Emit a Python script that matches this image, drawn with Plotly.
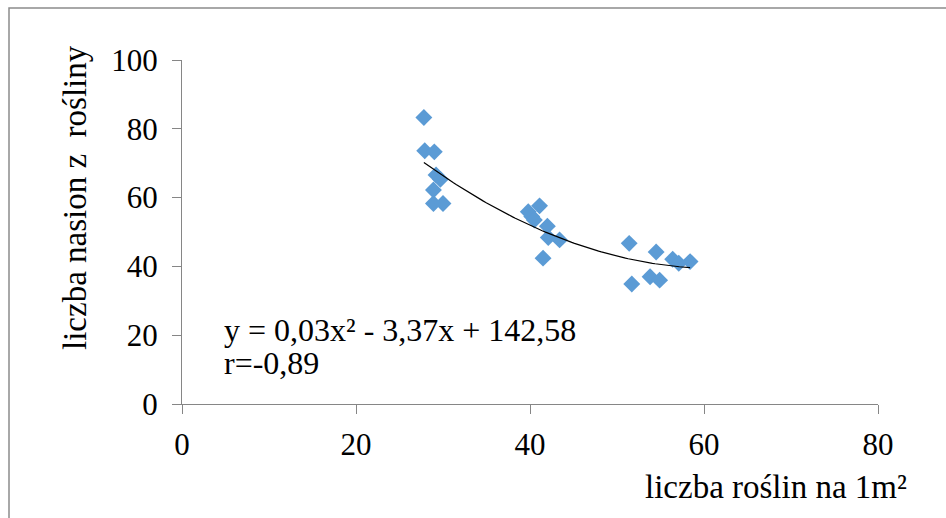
import numpy as np
import plotly.graph_objects as go

# data
plants_per_m2 = [27.8, 27.9, 29.0, 29.2, 29.7, 28.9, 28.9, 30.0,
                 39.8, 41.1, 40.2, 40.5, 42.0, 42.1, 43.4, 41.5,
                 51.4, 51.7, 54.5, 53.8, 54.9, 56.4, 57.1, 58.4]
seeds_per_plant = [83.3, 73.6, 73.3, 66.6, 65.3, 62.2, 58.3, 58.3,
                   55.9, 57.6, 54.5, 53.5, 51.7, 48.4, 47.7, 42.4,
                   46.7, 34.9, 44.2, 37.0, 36.0, 42.1, 40.9, 41.4]
x_ticks = [0, 20, 40, 60, 80]
y_ticks = [0, 20, 40, 60, 80, 100]
equation_line = "y = 0,03x² - 3,37x + 142,58"
r_line = "r=-0,89"
x_title = "liczba roślin na 1m²"
y_title = "liczba nasion z  rośliny"

# quadratic trendline fitted to the data
coef = np.polyfit(plants_per_m2, seeds_per_plant, 2)
xs = np.linspace(min(plants_per_m2), max(plants_per_m2), 100)
ys = np.polyval(coef, xs)

FONT = "Liberation Serif"
FS = 31
FS_TEXT = 32
AX = "#868686"

# plot-area pixel geometry
L, R, T, B = 182, 878, 60, 404
W, H = R - L, B - T

def px(x):
    return (x - L) / W

def py(y):
    return (B - y) / H

fig = go.Figure()
fig.add_trace(go.Scatter(x=plants_per_m2, y=seeds_per_plant, mode="markers",
                         marker=dict(symbol="diamond", size=13, color="#5B9BD5",
                                     line=dict(width=0)),
                         showlegend=False))
fig.add_trace(go.Scatter(x=xs, y=ys, mode="lines",
                         line=dict(color="black", width=1.2),
                         showlegend=False))

fig.update_layout(
    width=946, height=518,
    margin=dict(l=L, r=946 - R, t=T, b=518 - B),
    paper_bgcolor="white", plot_bgcolor="white",
    font=dict(family=FONT, size=FS, color="black"),
    xaxis=dict(range=[0, 80], tickvals=x_ticks, showgrid=False, zeroline=False,
               showline=True, linecolor=AX, linewidth=1,
               ticks="outside", ticklen=9, tickcolor=AX,
               tickfont=dict(family=FONT, size=FS), ticklabelstandoff=4),
    yaxis=dict(range=[0, 100], tickvals=y_ticks, showgrid=False, zeroline=False,
               showline=True, linecolor=AX, linewidth=1,
               ticks="outside", ticklen=9, tickcolor=AX,
               tickfont=dict(family=FONT, size=FS), ticklabelstandoff=8),
)

fig.add_annotation(x=px(222), y=py(330), xref="paper", yref="paper", text=equation_line,
                   showarrow=False, xanchor="left", yanchor="middle", align="left",
                   font=dict(family=FONT, size=FS_TEXT))
fig.add_annotation(x=px(222), y=py(363), xref="paper", yref="paper", text=r_line,
                   showarrow=False, xanchor="left", yanchor="middle", align="left",
                   font=dict(family=FONT, size=FS_TEXT))
fig.add_annotation(x=px(776), y=py(487), xref="paper", yref="paper",
                   text=x_title, showarrow=False, xanchor="center", yanchor="middle",
                   font=dict(family=FONT, size=FS_TEXT + 1))
fig.add_annotation(x=px(75), y=py(198), xref="paper", yref="paper",
                   text=y_title, showarrow=False, textangle=-90,
                   xanchor="center", yanchor="middle", font=dict(family=FONT, size=FS_TEXT + 1))

# chart frame
fig.add_shape(type="rect", xref="paper", yref="paper",
              x0=px(9), x1=px(960), y0=py(540), y1=py(8),
              line=dict(color="#8C8C8C", width=1.5), layer="below")

fig.write_html("out.html", config={"displayModeBar": False},
               post_script="document.body.style.margin='0px';")
